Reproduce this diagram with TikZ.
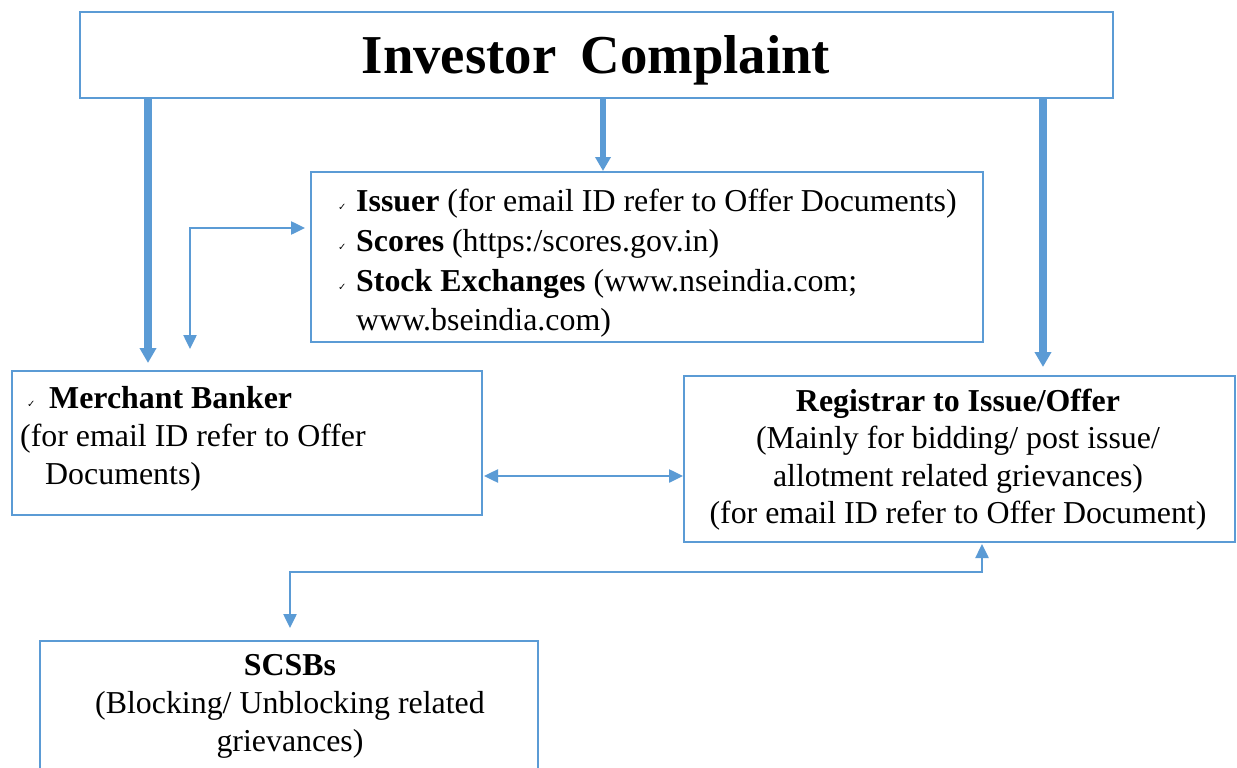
\documentclass[tikz,border=0pt]{standalone}
\usepackage{fontspec}
\setmainfont{Liberation Serif}
\newfontfamily\symfont{DejaVu Sans}
\usetikzlibrary{arrows.meta,calc}
\definecolor{cblue}{HTML}{5B9BD5}
\newcommand{\chk}{{\symfont\fontsize{10}{10}\selectfont ✓}}
\begin{document}
\begin{tikzpicture}[x=1bp,y=-1bp,
  box/.style={draw=cblue, line width=2.5bp, rectangle, inner sep=0pt, outer sep=0pt, anchor=north west},
  txt/.style={inner sep=0pt, font=\fontsize{32}{40}\selectfont},
  bul/.style={inner sep=0pt, anchor=base west},
  thickarr/.style={draw=cblue, line width=8bp, -{Triangle[length=15bp,width=16bp]}},
  midarr/.style={draw=cblue, line width=6bp, -{Triangle[length=14bp,width=15bp]}},
  thinarr/.style={draw=cblue, line width=2.5bp, {Triangle[length=14bp,width=13bp]}-{Triangle[length=14bp,width=13bp]}}
]
\clip (0,0) rectangle (1237,768);
\fill[white] (0,0) rectangle (1237,768);

% boxes
\node[box, minimum width=1033bp, minimum height=86bp] (ic) at (80,12) {};
\node[box, minimum width=672bp, minimum height=170bp] (iss) at (311,172) {};
\node[box, minimum width=470bp, minimum height=144bp] (mb) at (12,371) {};
\node[box, minimum width=551bp, minimum height=166bp] (reg) at (684,376) {};
\node[box, minimum width=498bp, minimum height=160bp] (scsb) at (40,641) {};

% title
\node[inner sep=0pt, anchor=base, font=\fontsize{55}{60}\selectfont\bfseries] (title) at (596,74) {\spaceskip=24bp Investor Complaint};

% issuer box text
\node[bul] (b1) at (338,210) {\chk};
\node[txt, anchor=base west] (t1) at (356,211) {\textbf{Issuer} (for email ID refer to Offer Documents)};
\node[bul] (b2) at (338,250) {\chk};
\node[txt, anchor=base west] (t2) at (356,251) {\textbf{Scores} (https:/scores.gov.in)};
\node[bul] (b3) at (338,290) {\chk};
\node[txt, anchor=base west] (t3) at (356,291) {\textbf{Stock Exchanges} (www.nseindia.com;};
\node[txt, anchor=base west] (t4) at (356,330) {www.bseindia.com)};

% merchant banker text
\node[bul] (b4) at (27,407) {\chk};
\node[txt, anchor=base west] (m1) at (49,408) {\textbf{Merchant Banker}};
\node[txt, anchor=base west] (m2) at (20,446) {(for email ID refer to Offer};
\node[txt, anchor=base west] (m3) at (45,484) {Documents)};

% registrar text
\node[txt, anchor=base] (r1) at (958,411) {\textbf{Registrar to Issue/Offer}};
\node[txt, anchor=base] (r2) at (958,448) {(Mainly for bidding/ post issue/};
\node[txt, anchor=base] (r3) at (958,486) {allotment related grievances)};
\node[txt, anchor=base] (r4) at (958,523) {(for email ID refer to Offer Document)};

% scsb text
\node[txt, anchor=base] (s1) at (290,675) {\textbf{SCSBs}};
\node[txt, anchor=base] (s2) at (290,713) {(Blocking/ Unblocking related};
\node[txt, anchor=base] (s3) at (290,751) {grievances)};

% thick arrows from title box
\draw[thickarr] (ic.south -| 148,0) -- ($(mb.north -| 148,0)+(0,-8)$);
\draw[midarr] (ic.south -| 603,0) -- ($(iss.north -| 603,0)+(0,-1)$);
\draw[thickarr] (ic.south -| 1043,0) -- ($(reg.north -| 1043,0)+(0,-9)$);

% thin connectors
\coordinate (mbup) at ($(mb.north -| 190,0)+(0,-22)$);
\coordinate (issl) at ($(iss.west |- 0,228)+(-6,0)$);
\draw[thinarr] (mbup) |- (issl);

\coordinate (mbr) at ($(mb.east |- 0,476)+(2,0)$);
\coordinate (regl) at ($(reg.west |- 0,476)+(-1,0)$);
\draw[thinarr] (mbr) -- (regl);

\coordinate (regb) at ($(reg.south -| 982,0)+(0,2)$);
\coordinate (scsbt) at ($(scsb.north -| 290,0)+(0,-13)$);
\draw[thinarr] (regb) -- ++(0,28) -| (scsbt);
\end{tikzpicture}
\end{document}
